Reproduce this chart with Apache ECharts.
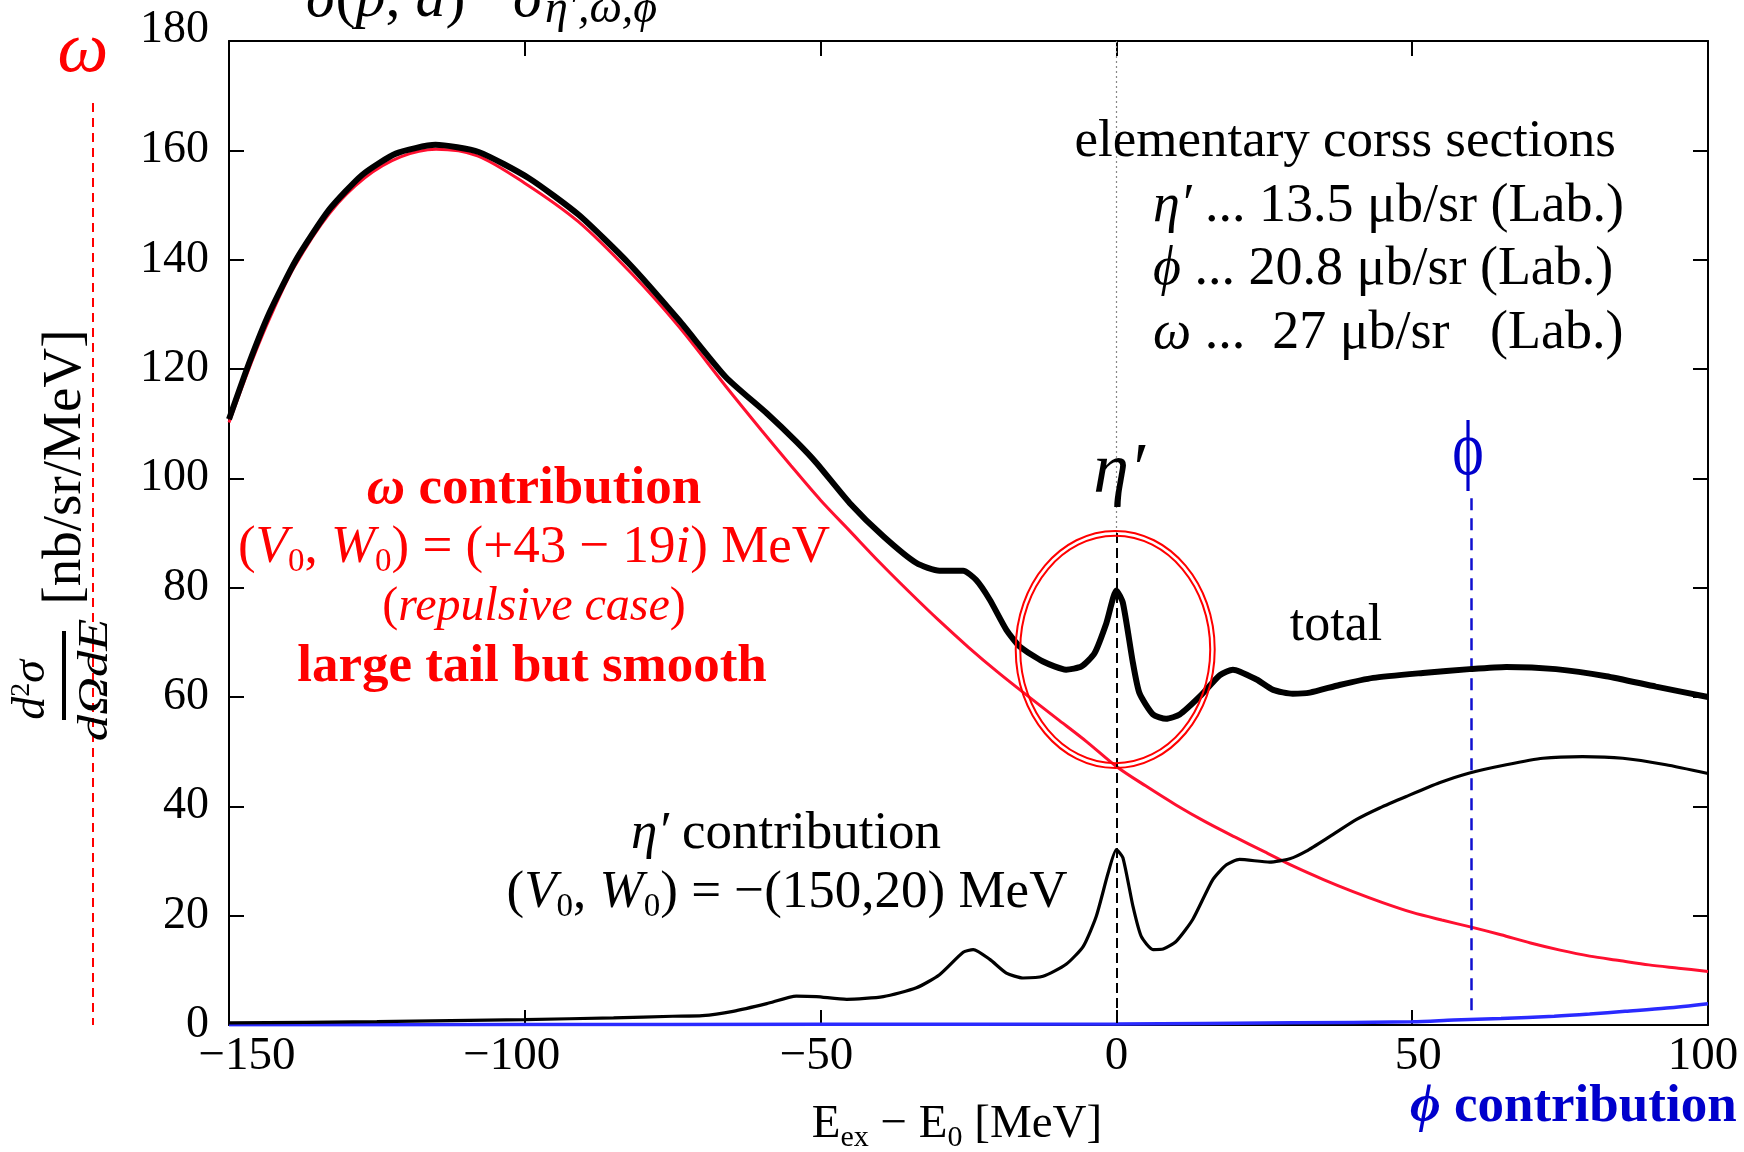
<!DOCTYPE html>
<html>
<head>
<meta charset="utf-8">
<script src="https://cdn.jsdelivr.net/npm/echarts@6/dist/echarts.min.js"></script>
<style>
  html, body { margin: 0; padding: 0; background: #ffffff; }
  #chart { width: 1744px; height: 1152px; }
</style>
</head>
<body>
<div id="chart"></div>
<script>
// Double differential cross section d2sigma/dOmega dE [nb/sr/MeV]
// versus excitation energy E_ex - E_0 [MeV]

// total spectrum
const totalE = [-150, -146.6, -143.2, -138.7, -133.1, -127.5, -121.8, -115.1, -107.8, -99.3,
  -90.9, -82.4, -74.0, -66.0, -59.1, -54.1, -50.7, -45.1, -39.4, -33.8,
  -29.9, -25.9, -23.7, -21.4, -18.6, -16.3, -12.4, -8.5, -5.9, -3.7,
  -1.7, 0, 1.1, 2.8, 3.9, 6.2, 8.4, 10.7, 14.1, 17.5,
  19.7, 23.7, 26.5, 29.8, 32.7, 37.7, 43.4, 51.8, 59.7, 65.9,
  74.3, 82.8, 91.2, 100];
const totalXS = [110.8, 121.1, 130.2, 139.9, 149.1, 155.5, 159.4, 161.0, 159.7, 154.9,
  148.2, 139.3, 129.0, 118.5, 111.9, 106.7, 102.8, 95.5, 89.4, 84.5,
  83.1, 83.1, 81.4, 77.8, 72.3, 69.2, 66.5, 65.0, 65.6, 68.0,
  73.5, 79.5, 77.2, 66.2, 60.7, 56.8, 56.0, 56.8, 60.1, 64.0,
  65.0, 63.2, 61.3, 60.6, 60.8, 62.2, 63.5, 64.4, 65.1, 65.5,
  65.1, 63.8, 61.9, 60.0];

// eta' contribution, (V0, W0) = -(150, 20) MeV
const etaE = [-150, -125, -100, -85, -75, -70, -64.8, -59.1, -54.1, -50.7,
  -45.6, -39.4, -33.8, -29.9, -25.9, -24.2, -21.4, -18.6, -15.8, -12.4,
  -8.5, -5.6, -3.4, -1.4, 0, 1.1, 2.8, 4.2, 6.2, 7.9,
  10.1, 12.9, 16.3, 18.6, 20.8, 25.9, 29.3, 32.1, 36.1, 40.6,
  44.5, 49.0, 54.6, 59.7, 65.9, 72.1, 78.8, 85.6, 92.9, 100];
const etaXS = [0.4, 0.6, 1.0, 1.3, 1.6, 1.7, 2.5, 3.9, 5.3, 5.2,
  4.7, 5.2, 6.8, 9.2, 13.3, 13.8, 12.0, 9.5, 8.6, 8.9,
  11.1, 14.4, 19.9, 27.8, 32.1, 30.6, 21.7, 16.2, 13.8, 13.9,
  15.3, 19.3, 26.6, 29.3, 30.3, 29.8, 30.4, 31.8, 34.5, 37.6,
  39.7, 41.8, 44.3, 46.1, 47.6, 48.8, 49.1, 48.8, 47.6, 46.0];

// omega contribution, (V0, W0) = (+43 - 19i) MeV
const omegaE = [-150, -146, -143, -139, -133, -127, -121, -115, -108, -100,
  -91, -82, -74, -66, -60, -55, -50, -45, -40, -35,
  -30, -25, -20, -15, -10, -5, 0, 5, 10, 15,
  20, 25, 30, 35, 40, 45, 50, 55, 60, 65,
  70, 75, 80, 85, 90, 95, 100];
const omegaXS = [110.2, 121.8, 129.6, 138.6, 148.5, 155.0, 158.8, 160.2, 159.0, 154.0,
  147.0, 137.5, 127.8, 116.8, 108.8, 102.3, 96.0, 90.3, 84.6, 79.2,
  74.0, 69.1, 64.5, 60.2, 56.0, 51.8, 47.3, 43.7, 40.3, 37.2,
  34.4, 31.7, 29.0, 26.6, 24.4, 22.4, 20.6, 19.2, 17.9, 16.5,
  15.0, 13.7, 12.6, 11.8, 11.0, 10.4, 9.8];

// phi contribution
const phiE = [-150, -100, -50, 0, 30, 50, 57, 65, 74, 80, 86, 93, 100];
const phiXS = [0.05, 0.08, 0.12, 0.2, 0.4, 0.6, 0.9, 1.2, 1.6, 2.0, 2.5, 3.1, 3.9];

// meson thresholds (E_ex - E_0 [MeV])
const etaThreshold = 0;
const phiThreshold = 60;

// axis ranges and ticks
const xRange = [-150, 100];
const xStep = 50;
const yRange = [0, 180];
const yStep = 20;

// highlighted eta' peak region: centre in data units
const peakMarkCentre = [-0.2, 68.7];

const pairs = (xs, ys) => xs.map((x, i) => [x, ys[i]]);

const SERIF = "'Liberation Serif', 'Times New Roman', 'DejaVu Serif', serif";
const RED_TXT = '#ff0000';
const BLUE_TXT = '#0000cc';

// horizontal nudges of the bottom tick labels (px, + = right)
const xLabelNudge = { '-150': 18, '-100': -13, '-50': -4, '50': 6, '100': -5 };
const xLabelRich = {};
Object.keys(xLabelNudge).forEach((k, i) => {
  const d = xLabelNudge[k];
  xLabelRich['n' + i] = {
    fontFamily: SERIF, fontSize: 47, color: '#000',
    padding: d > 0 ? [0, 0, 0, 2 * d] : [0, 2 * -d, 0, 0]
  };
});
xLabelRich.p = { fontFamily: SERIF, fontSize: 47, color: '#000' };

function xLabel(v) {
  const s = v < 0 ? '\u2212' + Math.abs(v) : String(v);
  const keys = Object.keys(xLabelNudge);
  const idx = keys.indexOf(String(v));
  return idx >= 0 ? '{n' + idx + '|' + s + '}' : '{p|' + s + '}';
}

// the top value label sits a little above its tick
const yLabelRich = {
  p: { fontFamily: SERIF, fontSize: 46, color: '#000' },
  t: { fontFamily: SERIF, fontSize: 46, color: '#000', padding: [0, 0, 22, 0] }
};
function yLabel(v) {
  return v === yRange[1] ? '{t|' + v + '}' : '{p|' + v + '}';
}

const chart = echarts.init(document.getElementById('chart'), null, { renderer: 'canvas' });

const axisLineStyle = { color: '#000', width: 2 };
const tickStyle = { show: true, inside: true, length: 15, lineStyle: { color: '#000', width: 2 } };

const option = {
  animation: false,
  backgroundColor: '#ffffff',
  grid: { left: 229, right: 36, top: 41, bottom: 127, containLabel: false, outerBoundsMode: 'none' },
  xAxis: [
    {
      type: 'value', position: 'bottom', min: xRange[0], max: xRange[1], interval: xStep,
      axisLine: { show: true, onZero: false, lineStyle: axisLineStyle },
      axisTick: tickStyle,
      splitLine: { show: false },
      axisLabel: { show: true, margin: 8, formatter: xLabel, rich: xLabelRich,
        showMinLabel: true, showMaxLabel: true, fontFamily: SERIF, fontSize: 47, color: '#000' }
    },
    {
      type: 'value', position: 'top', min: xRange[0], max: xRange[1], interval: xStep,
      axisLine: { show: true, onZero: false, lineStyle: axisLineStyle },
      axisTick: tickStyle,
      splitLine: { show: false },
      axisLabel: { show: false }
    }
  ],
  yAxis: [
    {
      type: 'value', position: 'left', min: yRange[0], max: yRange[1], interval: yStep,
      axisLine: { show: true, onZero: false, lineStyle: axisLineStyle },
      axisTick: tickStyle,
      splitLine: { show: false },
      axisLabel: { show: true, margin: 20, formatter: yLabel, rich: yLabelRich,
        fontFamily: SERIF, fontSize: 46, color: '#000',
        showMinLabel: true, showMaxLabel: true }
    },
    {
      type: 'value', position: 'right', min: yRange[0], max: yRange[1], interval: yStep,
      axisLine: { show: true, onZero: false, lineStyle: axisLineStyle },
      axisTick: tickStyle,
      splitLine: { show: false },
      axisLabel: { show: false }
    }
  ],
  series: [
    {
      name: 'eta threshold', type: 'line', data: [], xAxisIndex: 0, yAxisIndex: 0,
      markLine: {
        silent: true, symbol: ['none', 'none'], label: { show: false }, animation: false,
        data: [
          [{ coord: [etaThreshold, 180], lineStyle: { color: '#888', width: 1.2, type: [2, 3] } },
           { coord: [etaThreshold, 90] }],
          [{ coord: [etaThreshold, 90], lineStyle: { color: '#000', width: 2, type: [10, 5] } },
           { coord: [etaThreshold, 0] }]
        ]
      }
    },
    {
      name: 'omega', type: 'line', xAxisIndex: 0, yAxisIndex: 0,
      data: pairs(omegaE, omegaXS), showSymbol: false, symbol: 'none', smooth: 0.3,
      lineStyle: { color: '#ff1030', width: 3 }, z: 3
    },
    {
      name: 'phi', type: 'line', xAxisIndex: 0, yAxisIndex: 0,
      data: pairs(phiE, phiXS), showSymbol: false, symbol: 'none', smooth: 0.3,
      lineStyle: { color: '#2a2aff', width: 3.5 }, z: 3,
      markLine: {
        silent: true, symbol: ['none', 'none'], label: { show: false }, animation: false,
        lineStyle: { color: '#1010d0', width: 2.5, type: [12, 8] },
        data: [[{ coord: [phiThreshold, 2.7] }, { coord: [phiThreshold, 96.7] }]]
      }
    },
    {
      name: "eta'", type: 'line', xAxisIndex: 0, yAxisIndex: 0,
      data: pairs(etaE, etaXS), showSymbol: false, symbol: 'none', smooth: 0.2,
      lineStyle: { color: '#000', width: 3.2 }, z: 4
    },
    {
      name: 'total', type: 'line', xAxisIndex: 0, yAxisIndex: 0,
      data: pairs(totalE, totalXS), showSymbol: false, symbol: 'none', smooth: 0.2,
      lineStyle: { color: '#000', width: 6 }, z: 5
    }
  ]
};

chart.setOption(option);

// ---- annotations ----
function label(x, y, text, rich, opts) {
  opts = opts || {};
  const el = { type: 'text', x: x, y: y, silent: true, z: 100 };
  Object.keys(opts).forEach(k => { if (k !== 'style') el[k] = opts[k]; });
  el.style = Object.assign({
    text: text, rich: rich,
    align: 'center', verticalAlign: 'middle',
    textAlign: 'center', textVerticalAlign: 'middle'
  }, opts.style || {});
  return el;
}

function styles(color, size, subSize) {
  const base = { fontFamily: SERIF, fill: color, color: color };
  return {
    n: Object.assign({ fontSize: size }, base),
    i: Object.assign({ fontSize: size, fontStyle: 'italic' }, base),
    b: Object.assign({ fontSize: size, fontWeight: 'bold' }, base),
    bi: Object.assign({ fontSize: size, fontWeight: 'bold', fontStyle: 'italic' }, base),
    s: Object.assign({ fontSize: subSize, padding: [Math.round(size * 0.55), 0, 0, 0] }, base),
    sup: Object.assign({ fontSize: subSize, padding: [0, 0, Math.round(size * 0.45), 0] }, base)
  };
}

const LEFT = { style: { align: 'left', textAlign: 'left' } };
const RIGHT = { style: { align: 'right', textAlign: 'right' } };

const centre = chart.convertToPixel({ xAxisIndex: 0, yAxisIndex: 0 }, peakMarkCentre);

const graphics = [
  // formula at the top edge (partly outside the canvas)
  label(306, 0, '{i|σ}{n|(}{i|p}{n|, }{i|d}{n|)}', styles('#000', 60, 36), LEFT),
  label(513, 0, '{i|σ}', styles('#000', 60, 36), LEFT),
  label(545, 10, '{i|η′,ω,ϕ}', styles('#000', 46, 28), LEFT),

  // omega marker on the left
  label(83, 52, '{i|ω}', styles(RED_TXT, 72, 40)),
  { type: 'line', silent: true, z: 90,
    shape: { x1: 93, y1: 103, x2: 93, y2: 1025 },
    style: { stroke: RED_TXT, lineWidth: 2, lineDash: [9, 6] } },

  // y-axis title (rotated)
  label(66, 467, '{n|[nb/sr/MeV]}', styles('#000', 55, 32), { rotation: Math.PI / 2 }),
  label(32, 690, '{i|d}{sup|2}{i|σ}', styles('#000', 46, 28), { rotation: Math.PI / 2 }),
  { type: 'line', silent: true, z: 90,
    shape: { x1: 64, y1: 631, x2: 64, y2: 720 },
    style: { stroke: '#000', lineWidth: 4 } },
  label(96, 680, '{i|dΩdE}', styles('#000', 42, 24), { rotation: Math.PI / 2, scaleX: 1.25 }),

  // x-axis title
  label(957, 1125, '{n|E}{s|ex}{n| − E}{s|0}{n| [MeV]}', styles('#000', 47, 30)),

  // elementary cross sections
  label(1616, 142, '{n|elementary corss sections}', styles('#000', 53, 32), RIGHT),
  label(1153, 207, '{i|η′}{n| ... 13.5 μb/sr (Lab.)}', styles('#000', 54, 32), LEFT),
  label(1153, 270, '{i|ϕ}{n| ... 20.8 μb/sr (Lab.)}', styles('#000', 54, 32), LEFT),
  label(1153, 334, '{i|ω}{n| ...  27 μb/sr   (Lab.)}', styles('#000', 54, 32), LEFT),

  // omega contribution block
  label(534, 489, '{bi|ω}{b| contribution}', styles(RED_TXT, 53, 32)),
  label(534, 548, '{n|(}{i|V}{s|0}{n|, }{i|W}{s|0}{n|) = (+43 − 19}{i|i}{n|) MeV}', styles(RED_TXT, 53, 33)),
  label(534, 607, '{n|(}{i|repulsive case}{n|)}', styles(RED_TXT, 48, 30)),
  label(532, 667, '{b|large tail but smooth}', styles(RED_TXT, 53, 32)),

  // eta' contribution block
  label(786, 834, '{i|η′}{n| contribution}', styles('#000', 53, 32)),
  label(787, 893, '{n|(}{i|V}{s|0}{n|, }{i|W}{s|0}{n|) = −(150,20) MeV}', styles('#000', 53, 33)),

  // curve / threshold labels
  label(1336, 626, '{n|total}', styles('#000', 52, 32)),
  label(1119, 473, '{i|η′}', styles('#000', 72, 40)),
  label(1468, 454, '{n|ϕ}', styles(BLUE_TXT, 60, 40), { scaleY: 1.3 }),

  // phi contribution caption
  label(1410, 1107, '{bi|ϕ}{b| contribution}', styles(BLUE_TXT, 53, 32), LEFT),

  // eta' peak highlight (double ring)
  { type: 'ellipse', silent: true, z: 80,
    shape: { cx: centre[0], cy: centre[1], rx: 99.5, ry: 118.5 },
    style: { fill: 'none', stroke: '#ff0000', lineWidth: 2 } },
  { type: 'ellipse', silent: true, z: 80,
    shape: { cx: centre[0], cy: centre[1], rx: 95, ry: 113.7 },
    style: { fill: 'none', stroke: '#ff0000', lineWidth: 2 } }
];

chart.setOption({ graphic: { elements: graphics } });
</script>
</body>
</html>
